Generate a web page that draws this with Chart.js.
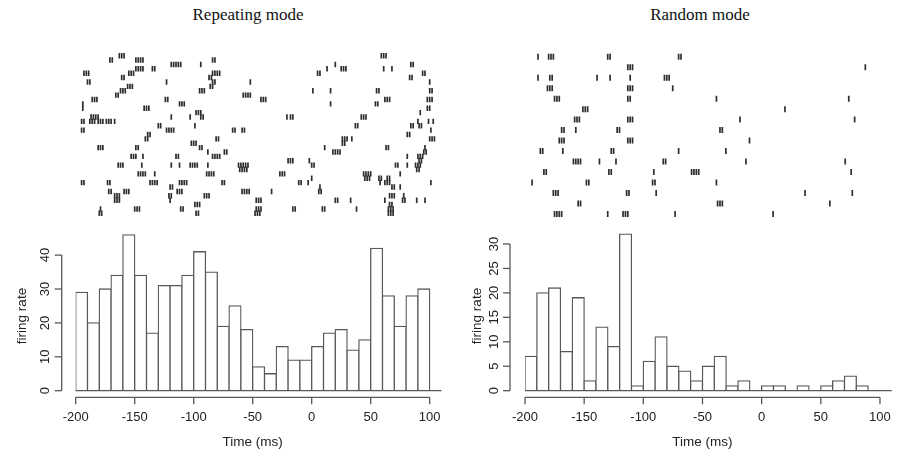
<!DOCTYPE html>
<html><head><meta charset="utf-8">
<script src="https://cdn.jsdelivr.net/npm/chart.js@4.4.1/dist/chart.umd.min.js"></script>
<style>
html,body{margin:0;padding:0;background:#fff;}
#wrap{position:relative;width:897px;height:459px;overflow:hidden;background:#fff;}
canvas{position:absolute;left:0;top:0;}
.title{position:absolute;top:5px;font-family:"Liberation Serif","Times New Roman",serif;font-size:17px;line-height:20px;color:#111;transform:translateX(-50%);white-space:nowrap;}
</style></head><body>
<div id="wrap">
<div class="title" style="left:248px">Repeating mode</div>
<div class="title" style="left:700px">Random mode</div>
<canvas id="rasterL" width="897" height="459"></canvas>
<canvas id="histL" width="897" height="459"></canvas>
<canvas id="rasterR" width="897" height="459"></canvas>
<canvas id="histR" width="897" height="459"></canvas>
</div>
<script>
// ---- data ----
const binStarts = [-200,-190,-180,-170,-160,-150,-140,-130,-120,-110,-100,-90,-80,-70,-60,-50,-40,-30,-20,-10,0,10,20,30,40,50,60,70,80,90,100];
const binWidth = 10;
const repeatingCounts = [29,20,30,34,46,34,17,31,31,34,41,35,19,25,18,7,5,13,9,9,13,17,18,12,15,42,28,19,28,30,0];
const randomCounts = [7,20,21,8,19,2,13,9,32,1,6,11,5,4,2,5,7,1,2,0,1,1,0,1,0,1,2,3,1,0,0];
const timeTicks = [-200,-150,-100,-50,0,50,100];
const repeatingRateTicks = [0,10,20,30,40];
const randomRateTicks = [0,5,10,15,20,25,30];

// spike times (ms), one array per trial row, top row first
const repeatingRaster = [
 [-163,-161,-159,59,61,63],
 [-171,-169,-149,-147,-145,-143,-84,-82],
 [-119,-117,-115,-113,-111,-94,20,84,86],
 [-149,-147,-145,-143,-135,-133,13,25,27,29,61,68],
 [-193,-191,-189,-155,-153,-151,-84,-82,-80,-78,5,7,94,96],
 [-161,-159,-87,-85,83,85],
 [-190,-188,-123,-84,-82,-52,100],
 [-156,-154,-152,-86,-84],
 [-162,-160,-158,-95,-93,-91,1,16,55,57,100,102],
 [-166,-164,-58,-56,-54,-52],
 [-186,-184,-182,-124,-122,-43,-41,-39,62,64,66,98,100,102],
 [-194,-112,-110,-108,16,54,56],
 [-194,-142,-140,-138,98,100],
 [-98,-96,-94,92],
 [-187,-185,-183,-181,-119,-103,-94,-92,-21,-18,-16,42,44,46],
 [-195,-193,-188,-186,-184,-181,-179,-177,-174,-172,-170,-167,90,99,103],
 [-130,-128,-99,37,39,84,86,91,93],
 [-195,-193,-123,-121,-119,-117,-67,-65,-59,-57,101],
 [-139,-137,81,83],
 [-141,-139,-81,-79,26,28,30,34,100,102,104],
 [-102,-100,-98,26,28],
 [-181,-179,-177,-149,-147,-95,-93,11,63,65,96],
 [-88,-74,-72,18,20,22,24,95,97],
 [-153,-151,-149,-143,-115,-113,-84,-82,-80,-78,81,90,92,94],
 [-20,-18,-16,-2,91,93],
 [-164,-162,-160,-144,-119,-112,-103,-101,-99,-97,-88,-62,-60,-58,-56,-54,0,2,71,73,81,88,90,92],
 [-61,-59,-57,-55,89,91],
 [-147,-145,-143,-141,-133,-89,-87,-85,-83,-27,-25,-23,44,46,48,50,75],
 [0,45,47,49,57,59,64,66],
 [-195,-193,-173,-171,-137,-135,-133,-131,-112,-110,-108,-106,-76,-74,-11,-9,-3,58,62,64,66,101],
 [-120,-118,7,68,70,75],
 [-172,-170,-159,-157,-155,-114,-112,-110,-59,-57,-55,-53,-34,6,8],
 [-167,-165,-163,-121,-119,-91,-89,-87,66,68,70,78],
 [-167,-165,-163,-120,-47,-45,-43,20,22,33,62,77,79,89,96],
 [-99,-97,-95,66,68],
 [-179,-150,-148,-146,-111,-109,-47,-45,-43,-16,-14,9,11,38,65,67,69],
 [-180,-178,-98,-96,-48,-46,-44,65,67,69]
];
const randomRaster = [
 [-189,-180,-178,-176,-130,-128,-70,-68],
 [-113,-111,-109,88],
 [-189,-179,-177,-139,-128,-111,-82,-80,-78],
 [-181,-179,-177,-113,-111,-109,-75],
 [-175,-173,-171,-113,-111,-38,74],
 [-151,-149,-147,20],
 [-158,-156,-154,-113,-111,-109,-18,79],
 [-169,-167,-157,-122,-120,-35,-33],
 [-171,-169,-167,-113,-111,-109,-10],
 [-187,-185,-168,-127,-125,-70,-30],
 [-159,-157,-155,-153,-137,-123,-83,-81,-13,71],
 [-184,-182,-129,-127,-91,-59,-57,-55,-53,76],
 [-194,-148,-146,-92,-90,-38],
 [-176,-174,-172,-114,-112,-89,37,77],
 [-155,-153,-37,-35,-33,58],
 [-175,-173,-171,-169,-130,-117,-115,-113,-73,10]
];

// ---- R-style axes plugin ----
const rAxes = {
  id: 'rAxes',
  afterDatasetsDraw(chart, args, o) {
    const {ctx, chartArea: ca, scales: {x, y}} = chart;
    const line = (x1, y1, x2, y2) => { ctx.beginPath(); ctx.moveTo(x1, y1); ctx.lineTo(x2, y2); ctx.stroke(); };
    ctx.save();
    ctx.strokeStyle = '#585858';
    ctx.lineWidth = 1.3;
    const yb = y.getPixelForValue(0);
    line(ca.left, yb, ca.right, yb);
    const xt = o.xTicks;
    const ay = ca.bottom + o.xGap;
    const xa = x.getPixelForValue(xt[0]), xb = x.getPixelForValue(xt[xt.length - 1]);
    line(xa, ay, xb, ay);
    ctx.fillStyle = '#222';
    ctx.font = '13px "Liberation Sans", Arial, sans-serif';
    ctx.textAlign = 'center';
    ctx.textBaseline = 'middle';
    xt.forEach(v => {
      const p = x.getPixelForValue(v);
      line(p, ay, p, ay + 7);
      ctx.fillText(String(v), p, ay + 20);
    });
    const yt = o.yTicks;
    const ax = ca.left - o.yGap;
    line(ax, y.getPixelForValue(yt[0]), ax, y.getPixelForValue(yt[yt.length - 1]));
    yt.forEach(v => {
      const p = y.getPixelForValue(v);
      line(ax, p, ax - 7, p);
      ctx.save();
      ctx.translate(ax - 16, p);
      ctx.rotate(-Math.PI / 2);
      ctx.fillText(String(v), 0, 0);
      ctx.restore();
    });
    ctx.font = '13.5px "Liberation Sans", Arial, sans-serif';
    ctx.fillText(o.xTitle, (xa + xb) / 2, o.xTitleY);
    ctx.save();
    ctx.translate(o.yTitleX, o.yTitleY);
    ctx.rotate(-Math.PI / 2);
    ctx.fillText(o.yTitle, 0, 0);
    ctx.restore();
    ctx.restore();
  }
};

function histChart(id, counts, yTicks, g) {
  return new Chart(document.getElementById(id), {
    type: 'bar',
    data: {
      datasets: [{
        data: binStarts.map((s, i) => ({x: s + binWidth / 2, y: counts[i]})),
        backgroundColor: '#ffffff',
        borderColor: '#585858',
        borderWidth: 1.3,
        borderSkipped: false,
        inflateAmount: 0.65,
        barPercentage: 1,
        categoryPercentage: 1
      }]
    },
    options: {
      responsive: false, animation: false, events: [],
      layout: {padding: g.padding},
      plugins: {
        legend: {display: false}, tooltip: {enabled: false},
        rAxes: {xTicks: timeTicks, yTicks: yTicks, xGap: 6.6, yGap: g.yGap,
                xTitle: 'Time (ms)', xTitleY: 442, yTitle: 'firing rate', yTitleX: g.yTitleX, yTitleY: 316}
      },
      scales: {
        x: {type: 'linear', min: -200, max: 110, offset: false, display: false, ticks: {stepSize: 50}},
        y: {min: 0, max: g.ymax, display: false}
      }
    },
    plugins: [rAxes]
  });
}

function rasterChart(id, rows, g) {
  const pts = [];
  rows.forEach((times, r) => times.forEach(t => pts.push({x: t, y: r})));
  return new Chart(document.getElementById(id), {
    type: 'scatter',
    data: {
      datasets: [{
        data: pts,
        pointStyle: 'line',
        pointRotation: 90,
        pointRadius: g.tick,
        pointBorderWidth: 1.7,
        pointBorderColor: '#2e2e2e',
        pointBackgroundColor: '#2e2e2e'
      }]
    },
    options: {
      responsive: false, animation: false, events: [],
      layout: {padding: g.padding},
      plugins: {legend: {display: false}, tooltip: {enabled: false}},
      scales: {
        x: {type: 'linear', min: -200, max: 110, display: false},
        y: {min: -1, max: rows.length, reverse: true, display: false}
      }
    }
  });
}

rasterChart('rasterL', repeatingRaster, {padding: {left: 75.7, right: 455.5, top: 51.3, bottom: 241.3}, tick: 2.7});
histChart('histL', repeatingCounts, repeatingRateTicks, {padding: {left: 75.7, right: 455.5, top: 228, bottom: 68.3}, ymax: 48, yGap: 14, yTitleX: 22});
rasterChart('rasterR', randomRaster, {padding: {left: 525, right: 5.2, top: 46.2, bottom: 234.5}, tick: 3});
histChart('histR', randomCounts, randomRateTicks, {padding: {left: 525, right: 5.2, top: 229.3, bottom: 68.3}, ymax: 33, yGap: 15, yTitleX: 477});
</script>
</body></html>
